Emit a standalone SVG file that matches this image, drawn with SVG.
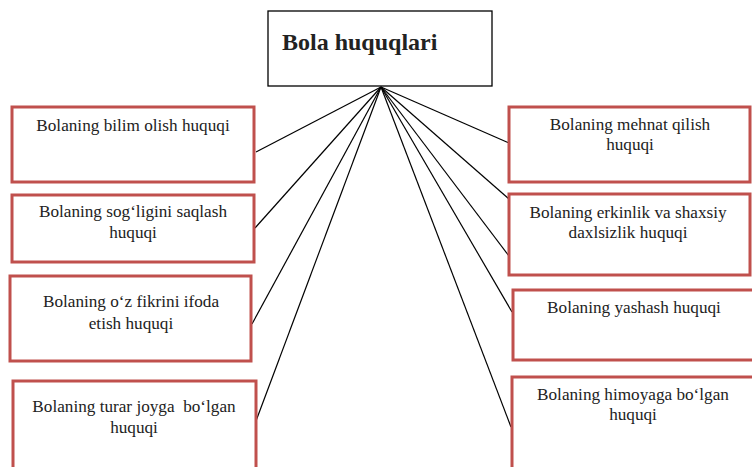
<svg xmlns="http://www.w3.org/2000/svg" width="752" height="467" viewBox="0 0 752 467">
<style>
.box{fill:#fff;stroke:#C0504D;stroke-width:3}
.t{font-family:"Liberation Serif","Times New Roman",serif;font-size:17.2px;fill:#222;text-anchor:middle}
.title{font-family:"Liberation Serif","Times New Roman",serif;font-size:24px;font-weight:bold;fill:#222}
.c line{stroke:#000;stroke-width:1.2}
</style>
<rect width="752" height="467" fill="#fff"/>
<g class="c" id="connectors">
<line x1="381" y1="87" x2="256" y2="152"/>
<line x1="381" y1="87" x2="255" y2="228"/>
<line x1="381" y1="87" x2="252" y2="324"/>
<line x1="381" y1="87" x2="256" y2="421"/>
<line x1="381" y1="87" x2="509" y2="143"/>
<line x1="381" y1="87" x2="509" y2="199"/>
<line x1="381" y1="87" x2="509" y2="256"/>
<line x1="381" y1="87" x2="512" y2="312"/>
<line x1="381" y1="87" x2="511" y2="427"/>
</g>
<g id="root">
<rect x="268" y="11" width="224" height="75" fill="#fff" stroke="#000" stroke-width="1.3"/>
<text class="title" x="282" y="50">Bola huquqlari</text>
</g>
<g id="l1">
<rect class="box" x="12" y="107" width="242" height="75"/>
<text class="t" x="133" y="131">Bolaning bilim olish huquqi</text>
</g>
<g id="l2">
<rect class="box" x="12" y="195" width="242" height="67"/>
<text class="t" x="133" y="217">Bolaning sog‘ligini saqlash</text>
<text class="t" x="133" y="238">huquqi</text>
</g>
<g id="l3">
<rect class="box" x="10" y="276" width="241" height="85"/>
<text class="t" x="131" y="307">Bolaning o‘z fikrini ifoda</text>
<text class="t" x="131" y="329">etish huquqi</text>
</g>
<g id="l4">
<rect class="box" x="13" y="381" width="243" height="90"/>
<text class="t" x="134" y="412">Bolaning turar joyga&#160; bo‘lgan</text>
<text class="t" x="134" y="433">huquqi</text>
</g>
<g id="r1">
<rect class="box" x="509" y="107" width="241" height="75"/>
<text class="t" x="630" y="130">Bolaning mehnat qilish</text>
<text class="t" x="630" y="150">huquqi</text>
</g>
<g id="r2">
<rect class="box" x="509" y="194" width="241" height="81"/>
<text class="t" x="628" y="218">Bolaning erkinlik va shaxsiy</text>
<text class="t" x="628" y="238">daxlsizlik huquqi</text>
</g>
<g id="r3">
<rect class="box" x="513" y="290" width="245" height="70"/>
<text class="t" x="634" y="313">Bolaning yashash huquqi</text>
</g>
<g id="r4">
<rect class="box" x="512" y="377" width="246" height="95"/>
<text class="t" x="633" y="400">Bolaning himoyaga bo‘lgan</text>
<text class="t" x="633" y="420">huquqi</text>
</g>
</svg>
